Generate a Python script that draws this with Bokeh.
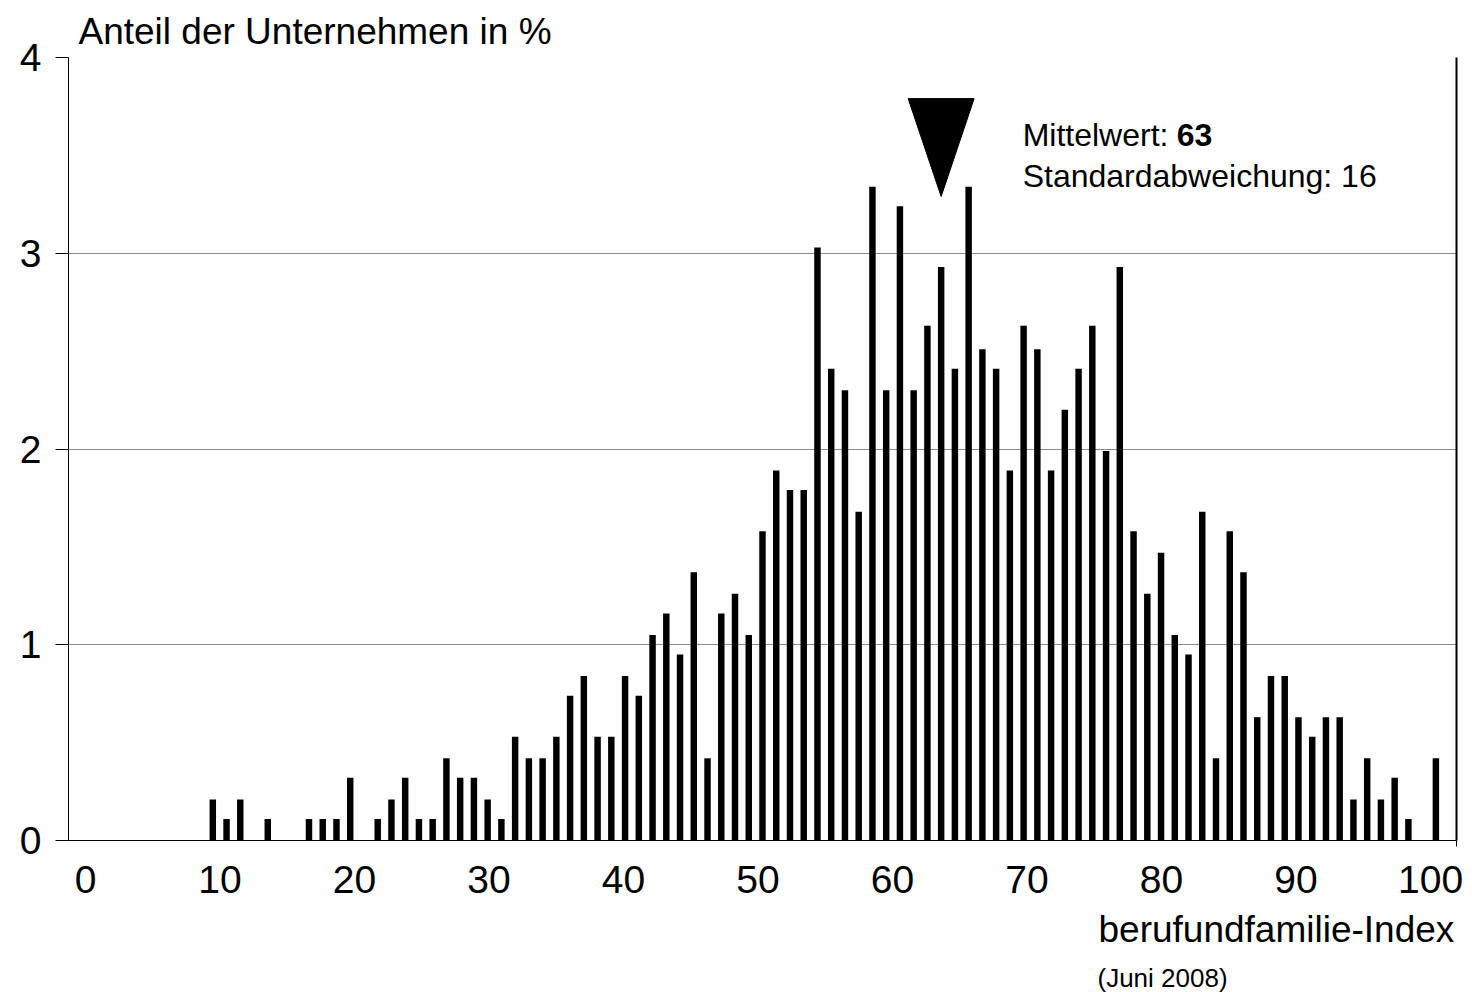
from bokeh.plotting import figure
from bokeh.models import LinearAxis, Range1d, FixedTicker, Label, Title, ColumnDataSource
from bokeh.embed import file_html
from bokeh.resources import INLINE

# ---- data ----
index_values = list(range(0, 101))
shares = [0, 0, 0, 0, 0, 0, 0, 0, 0, 0,
          0.21, 0.11, 0.21, 0, 0.11, 0, 0, 0.11, 0.11, 0.11,
          0.32, 0, 0.11, 0.21, 0.32, 0.11, 0.11, 0.42, 0.32, 0.32,
          0.21, 0.11, 0.53, 0.42, 0.42, 0.53, 0.74, 0.84, 0.53, 0.53,
          0.84, 0.74, 1.05, 1.16, 0.95, 1.37, 0.42, 1.16, 1.26, 1.05,
          1.58, 1.89, 1.79, 1.79, 3.03, 2.41, 2.30, 1.68, 3.34, 2.30,
          3.24, 2.30, 2.63, 2.93, 2.41, 3.34, 2.51, 2.41, 1.89, 2.63,
          2.51, 1.89, 2.20, 2.41, 2.63, 1.99, 2.93, 1.58, 1.26, 1.47,
          1.05, 0.95, 1.68, 0.42, 1.58, 1.37, 0.63, 0.84, 0.84, 0.63,
          0.53, 0.63, 0.63, 0.21, 0.42, 0.21, 0.32, 0.11, 0, 0.42,
          0]
x_tick_labels = [0, 10, 20, 30, 40, 50, 60, 70, 80, 90, 100]
y_ticks = [0, 1, 2, 3, 4]
mean_value = 63
std_value = 16

FONT = "Liberation Sans"

p = figure(width=1472, height=992,
           x_range=Range1d(-0.5, 100.5), y_range=Range1d(0, 4),
           output_backend="svg", toolbar_location=None,
           x_axis_location=None,
           min_border_left=68, min_border_right=16,
           min_border_top=57, min_border_bottom=150)
p.outline_line_color = None
p.background_fill_color = "white"
p.border_fill_color = "white"

# title
p.title.text = "Anteil der Unternehmen in %"
p.title.text_font = FONT
p.title.text_font_size = "37px"
p.title.text_font_style = "normal"
p.title.text_color = "black"
p.title.align = "left"
p.title.offset = 10
p.title.standoff = 11

# bars
src = ColumnDataSource(dict(x=index_values, top=shares))
p.vbar(x="x", top="top", width=0.47, bottom=0, source=src,
       fill_color="black", line_color=None)

# y axis
yax = p.yaxis[0]
yax.ticker = FixedTicker(ticks=y_ticks)
yax.major_tick_out = 13
yax.major_tick_in = 0
yax.minor_tick_out = 0
yax.minor_tick_in = 0
yax.major_label_text_font = FONT
yax.major_label_text_font_size = "39px"
yax.major_label_text_color = "black"
yax.major_label_standoff = 14
yax.axis_line_color = "black"
yax.major_tick_line_color = "black"

p.ygrid.ticker = FixedTicker(ticks=y_ticks)
p.ygrid.grid_line_color = "#8c8c8c"
p.ygrid.grid_line_width = 1
p.xgrid.visible = False

# right boundary line
rax = LinearAxis(ticker=FixedTicker(ticks=[]), major_label_text_font_size="1px",
                 major_label_text_color=None,
                 major_tick_out=0, major_tick_in=0, minor_tick_out=0, minor_tick_in=0,
                 axis_line_color="black", axis_line_width=2)
p.add_layout(rax, "right")

# x axis line with end tick
xax = LinearAxis(ticker=FixedTicker(ticks=[100.5]), major_label_text_font_size="1px",
                 major_label_text_color=None,
                 major_tick_out=6, major_tick_in=0, minor_tick_out=0, minor_tick_in=0,
                 major_label_standoff=0,
                 axis_line_color="black", major_tick_line_color="black")
p.add_layout(xax, "below")

# label axis
p.extra_x_ranges = {"lab": Range1d(-1.264, 101.93)}
lax = LinearAxis(x_range_name="lab", ticker=FixedTicker(ticks=x_tick_labels),
                 axis_line_color=None, major_tick_line_color=None, minor_tick_line_color=None,
                 major_tick_out=0, major_tick_in=0, minor_tick_out=0, minor_tick_in=0,
                 major_label_text_font=FONT, major_label_text_font_size="39px",
                 major_label_text_color="black",
                 major_label_standoff=19)
p.add_layout(lax, "below")

# axis caption below
t1 = Title(text="berufundfamilie-Index", align="left", offset=1030,
           text_font=FONT, text_font_size="37px", text_font_style="normal",
           text_color="black", standoff=22)
p.add_layout(t1, "below")
t2 = Title(text="(Juni 2008)", align="left", offset=1029,
           text_font=FONT, text_font_size="26px", text_font_style="normal",
           text_color="black", standoff=0)
p.add_layout(t2, "below")

# mean marker (triangle)
p.patch(x=[mean_value - 2.4, mean_value + 2.4, mean_value], y=[3.79, 3.79, 3.29],
        fill_color="black", line_color="black")

# annotation
p.add_layout(Label(x=68.93, y=3.605, text="Mittelwert: ", text_font=FONT,
                   text_font_size="32px", text_color="black", text_baseline="alphabetic"))
p.add_layout(Label(x=68.93, y=3.605, x_offset=154, text=str(mean_value), text_font=FONT,
                   text_font_size="32px", text_font_style="bold", text_color="black",
                   text_baseline="alphabetic"))
p.add_layout(Label(x=68.93, y=3.395, text="Standardabweichung: " + str(std_value), text_font=FONT,
                   text_font_size="32px", text_color="black", text_baseline="alphabetic"))

open("out.html", "w").write(file_html(p, INLINE))
